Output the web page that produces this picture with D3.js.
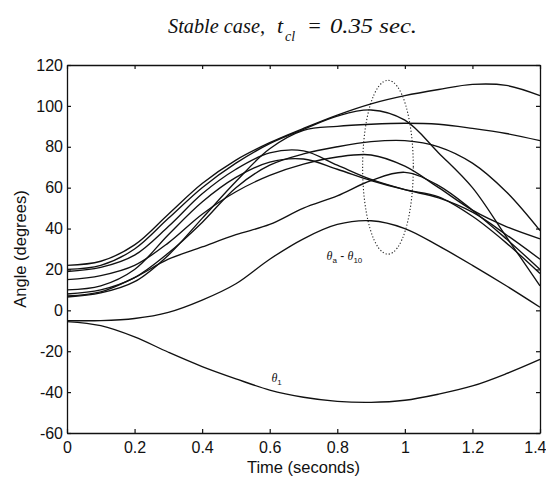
<!DOCTYPE html>
<html>
<head>
<meta charset="utf-8">
<script src="https://cdn.jsdelivr.net/npm/d3@7"></script>
<style>
  html, body { margin: 0; padding: 0; background: #fff; }
  svg { display: block; }
</style>
</head>
<body>
<svg id="chart" width="546" height="479"></svg>
<script>
// ---- data ----
const timeSec = [0, 0.1, 0.2, 0.3, 0.4, 0.5, 0.6, 0.7, 0.8, 0.9, 1.0, 1.1, 1.2, 1.3, 1.4];

const theta1  = [-5.5, -7.5, -13, -20.5, -27.5, -33.5, -39, -42.5, -44.5, -45, -44, -41, -37, -31, -24];

const thetaA  = [22, 24, 32, 47, 62, 73.5, 82, 89, 95.5, 101, 105, 108, 110.5, 110, 105];
const thetaB  = [20, 22, 30, 45, 60, 72, 81.5, 88.5, 95, 98, 93, 77, 60, 36, 12];
const thetaC  = [6.5, 8.5, 14, 27, 45, 63, 79, 88, 90, 91, 91.5, 91, 89, 86.5, 83];
const thetaD  = [8, 10, 16, 28, 43, 60, 71, 76.5, 80, 82.5, 83, 80, 72, 58, 39];
const thetaE  = [15, 17, 22, 33, 47, 58, 66, 71.5, 75, 76, 70.5, 60, 49, 41, 35];
const thetaF  = [19, 21, 27, 41, 57, 69, 77, 78, 71, 64, 59, 55, 48, 37, 25];
const thetaG  = [10, 12, 20, 37, 53, 65, 72.5, 74, 69, 63.5, 59, 55.5, 46, 33, 18];
const thetaH  = [7, 9, 16, 25, 31, 37, 42, 50, 56, 63.5, 67.5, 61, 49, 35, 20];
const thetaI  = [-5, -5, -4, -1, 5, 13, 25, 35, 42, 43.8, 40, 31.5, 22, 12, 1.5];

const seriesList = [theta1, thetaA, thetaB, thetaC, thetaD, thetaE, thetaF, thetaG, thetaH, thetaI];

const xTicks = [0, 0.2, 0.4, 0.6, 0.8, 1, 1.2, 1.4];
const xTickLabels = ["0", "0.2", "0.4", "0.6", "0.8", "1", "1.2", "1.4"];
const yTicks = [-60, -40, -20, 0, 20, 40, 60, 80, 100, 120];
const yTickLabels = ["-60", "-40", "-20", "0", "20", "40", "60", "80", "100", "120"];

// dotted ellipse (centre time, centre angle, half-width in time, half-height in angle)
const ellipseCenter = [0.95, 70];
const ellipseHalf = [0.075, 42.5];

// ---- drawing ----
const svg = d3.select("#chart");
const pLeft = 67, pRight = 540, pTop = 65, pBottom = 433;

const x = d3.scaleLinear().domain([0, 1.4]).range([pLeft, pRight]);
const y = d3.scaleLinear().domain([-60, 120]).range([pBottom, pTop]);

const sans = "'Liberation Sans', Arial, Helvetica, sans-serif";
const serif = "'Liberation Serif', 'Times New Roman', Times, serif";

// title (pieces placed individually)
const tg = svg.append("g")
  .attr("font-family", serif)
  .attr("font-style", "italic")
  .attr("fill", "#111");
tg.append("text").attr("x", 168).attr("y", 33).attr("font-size", 22)
  .attr("textLength", 97).attr("lengthAdjust", "spacingAndGlyphs").text("Stable case,");
tg.append("text").attr("x", 277).attr("y", 33).attr("font-size", 22).text("t");
tg.append("text").attr("x", 285).attr("y", 41).attr("font-size", 14).text("cl");
tg.append("text").attr("x", 307).attr("y", 33).attr("font-size", 22).text("=");
tg.append("text").attr("x", 330).attr("y", 33).attr("font-size", 22)
  .attr("textLength", 87).attr("lengthAdjust", "spacingAndGlyphs").text("0.35 sec.");

// lines
const line = d3.line()
  .x((d, i) => x(timeSec[i]))
  .y(d => y(d))
  .curve(d3.curveCatmullRom.alpha(0.5));

svg.append("g")
  .selectAll("path")
  .data(seriesList)
  .join("path")
  .attr("d", line)
  .attr("fill", "none")
  .attr("stroke", "#111")
  .attr("stroke-width", 1.35)
  .attr("stroke-linejoin", "round");

// ellipse
svg.append("ellipse")
  .attr("cx", x(ellipseCenter[0]))
  .attr("cy", y(ellipseCenter[1]))
  .attr("rx", x(ellipseCenter[0] + ellipseHalf[0]) - x(ellipseCenter[0]))
  .attr("ry", y(ellipseCenter[1] - ellipseHalf[1]) - y(ellipseCenter[1]))
  .attr("fill", "none")
  .attr("stroke", "#222")
  .attr("stroke-width", 1.1)
  .attr("stroke-dasharray", "1.2,2");

// axes
const fmtX = d => xTickLabels[xTicks.indexOf(d)];
const fmtY = d => yTickLabels[yTicks.indexOf(d)];

const gx = svg.append("g").attr("transform", `translate(0,${pBottom})`)
  .call(d3.axisBottom(x).tickValues(xTicks).tickFormat(fmtX).tickSize(-4).tickSizeOuter(0).tickPadding(9));
const gy = svg.append("g").attr("transform", `translate(${pLeft},0)`)
  .call(d3.axisLeft(y).tickValues(yTicks).tickFormat(fmtY).tickSize(-4).tickSizeOuter(0).tickPadding(4));
const gt = svg.append("g").attr("transform", `translate(0,${pTop})`)
  .call(d3.axisTop(x).tickValues(xTicks).tickFormat("").tickSize(-4).tickSizeOuter(0));
const gr = svg.append("g").attr("transform", `translate(${pRight},0)`)
  .call(d3.axisRight(y).tickValues(yTicks).tickFormat("").tickSize(-4).tickSizeOuter(0));

[gx, gy, gt, gr].forEach(g => {
  g.selectAll("path.domain").attr("stroke", "#111").attr("stroke-width", 1.3);
  g.selectAll(".tick line").attr("stroke", "#111").attr("stroke-width", 1.2);
  g.selectAll("text").attr("font-family", sans).attr("font-size", 16).attr("fill", "#111");
});
// keep the last x label inside the window
gx.selectAll(".tick text").filter(d => d === 1.4).attr("text-anchor", "end").attr("dx", 6);

// axis titles
svg.append("text")
  .attr("x", (pLeft + pRight) / 2).attr("y", 473)
  .attr("text-anchor", "middle")
  .attr("font-family", sans).attr("font-size", 16.5).attr("fill", "#111")
  .text("Time (seconds)");

svg.append("text")
  .attr("transform", `translate(26,${(pTop + pBottom) / 2}) rotate(-90)`)
  .attr("text-anchor", "middle")
  .attr("font-family", sans).attr("font-size", 16.5).attr("fill", "#111")
  .text("Angle (degrees)");

// annotations
const lab1 = svg.append("text")
  .attr("x", x(0.605)).attr("y", y(-35))
  .attr("font-family", sans).attr("font-size", 12).attr("fill", "#111");
lab1.append("tspan").attr("font-family", serif).attr("font-style", "italic").text("θ");
lab1.append("tspan").attr("font-size", 8).attr("dy", 3).text("1");

const lab2 = svg.append("text")
  .attr("x", x(0.768)).attr("y", y(24.5))
  .attr("font-family", sans).attr("font-size", 12).attr("fill", "#111");
lab2.append("tspan").attr("font-family", serif).attr("font-style", "italic").text("θ");
lab2.append("tspan").attr("font-size", 8).attr("dy", 3).text("a");
lab2.append("tspan").attr("dy", -3).text(" - ");
lab2.append("tspan").attr("font-family", serif).attr("font-style", "italic").text("θ");
lab2.append("tspan").attr("font-size", 8).attr("dy", 3).text("10");
</script>
</body>
</html>
